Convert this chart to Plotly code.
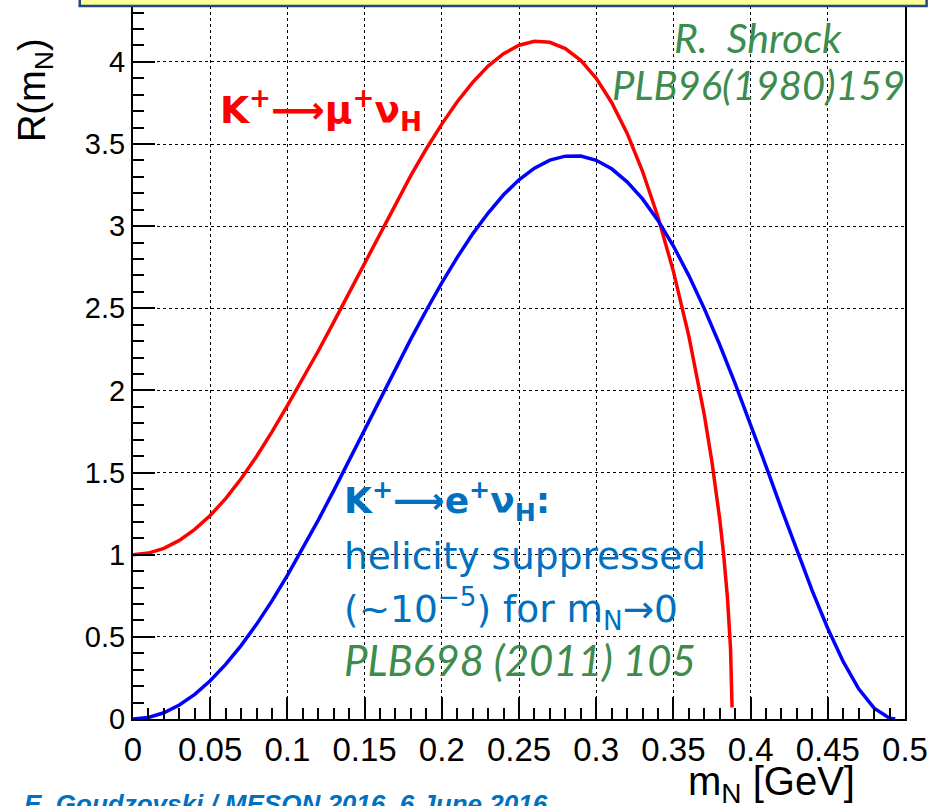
import plotly.graph_objects as go

# ---- data ----
mu_mass = [0.00, 0.01, 0.02, 0.03, 0.04, 0.05, 0.06, 0.07, 0.08, 0.09,
           0.10, 0.11, 0.12, 0.13, 0.14, 0.15, 0.16, 0.17, 0.18, 0.19,
           0.20, 0.21, 0.22, 0.23, 0.24, 0.25, 0.26, 0.27, 0.28, 0.29,
           0.30, 0.31, 0.32, 0.33, 0.34, 0.35, 0.36, 0.37, 0.375, 0.38,
           0.3825, 0.385, 0.387, 0.388]
mu_ratio = [1.000, 1.010, 1.039, 1.087, 1.154, 1.239, 1.341, 1.462, 1.598, 1.748,
            1.908, 2.070, 2.240, 2.416, 2.596, 2.778, 2.960, 3.138, 3.309, 3.471,
            3.621, 3.757, 3.875, 3.974, 4.050, 4.101, 4.125, 4.119, 4.081, 4.009,
            3.900, 3.753, 3.566, 3.334, 3.056, 2.725, 2.331, 1.852, 1.563, 1.217,
            1.005, 0.740, 0.430, 0.070]

e_mass = [0.00, 0.01, 0.02, 0.03, 0.04, 0.05, 0.06, 0.07, 0.08, 0.09,
          0.10, 0.11, 0.12, 0.13, 0.14, 0.15, 0.16, 0.17, 0.18, 0.19,
          0.20, 0.21, 0.22, 0.23, 0.24, 0.25, 0.26, 0.27, 0.28, 0.29,
          0.30, 0.31, 0.32, 0.33, 0.34, 0.35, 0.36, 0.37, 0.38, 0.39,
          0.40, 0.41, 0.42, 0.43, 0.44, 0.45, 0.46, 0.47, 0.48, 0.49,
          0.4937]
e_ratio = [0.000, 0.009, 0.038, 0.085, 0.150, 0.233, 0.332, 0.447, 0.576, 0.719,
           0.874, 1.038, 1.211, 1.390, 1.574, 1.761, 1.948, 2.133, 2.314, 2.488,
           2.655, 2.810, 2.953, 3.080, 3.191, 3.282, 3.353, 3.402, 3.426, 3.427,
           3.401, 3.349, 3.270, 3.166, 3.035, 2.879, 2.699, 2.498, 2.278, 2.042,
           1.794, 1.538, 1.279, 1.023, 0.778, 0.551, 0.349, 0.184, 0.066, 0.005,
           0.000]

x_range = [0, 0.5]
y_range = [0, 4.34]

RED = "#FF0000"
BLUE = "#0000FF"
TXT_BLUE = "#0070C0"
GREEN = "#3E8B4E"

fig = go.Figure()
fig.add_trace(go.Scatter(x=mu_mass, y=mu_ratio, mode="lines",
                         line=dict(color=RED, width=3.5), hoverinfo="skip"))
fig.add_trace(go.Scatter(x=e_mass, y=e_ratio, mode="lines",
                         line=dict(color=BLUE, width=3.5), hoverinfo="skip"))

axis_common = dict(
    showline=True, mirror=True, linecolor="black", linewidth=2,
    ticks="inside", ticklen=22, tickwidth=2, tickcolor="black",
    showgrid=True, gridcolor="black", griddash="dot", gridwidth=1,
    zeroline=False, automargin=False,
)

fig.update_xaxes(range=x_range, tick0=0, dtick=0.05,
                 minor=dict(dtick=0.01, ticks="inside", ticklen=11, tickwidth=1.5,
                            tickcolor="black", showgrid=False),
                 tickfont=dict(family="Liberation Sans", size=33, color="black"),
                 **axis_common)
fig.update_yaxes(range=y_range, tick0=0, dtick=0.5,
                 minor=dict(dtick=0.1, ticks="inside", ticklen=11, tickwidth=1.5,
                            tickcolor="black", showgrid=False),
                 tickfont=dict(family="Liberation Sans", size=29, color="black"),
                 **axis_common)

fig.update_layout(
    width=932, height=806,
    margin=dict(l=133, r=27, t=6, b=87),
    plot_bgcolor="white", paper_bgcolor="white",
    showlegend=False,
)

# yellow banner at the very top (cut off)
fig.add_shape(type="rect", xref="paper", yref="paper",
              x0=-0.069, x1=1.028, y0=1.0, y1=1.05,
              fillcolor="#FFFF99", line=dict(color="#1F497D", width=2.5), layer="above")

ann = []
# axis titles
ann.append(dict(text="R(m<sub>N</sub>)", xref="paper", yref="paper",
                x=-0.127, y=0.882, textangle=-90, showarrow=False,
                xanchor="center", yanchor="middle",
                font=dict(family="Liberation Sans", size=38, color="black")))
ann.append(dict(text="m<sub>N</sub> [GeV]", xref="paper", yref="paper",
                x=0.938, y=-0.091, showarrow=False, xanchor="right", yanchor="middle",
                font=dict(family="Liberation Sans", size=40, color="black")))
# red label
ann.append(dict(text="<b>K<sup>+</sup>⟶μ<sup>+</sup>ν<sub>H</sub></b>", xref="x", yref="y",
                x=0.0551, y=3.71, showarrow=False, xanchor="left", yanchor="middle",
                font=dict(family="DejaVu Sans", size=37.5, color=RED)))
# green reference (top right)
ann.append(dict(text="<i>R.\u00a0\u00a0Shrock</i>", xref="x", yref="y",
                x=0.4048, y=4.15, showarrow=False, xanchor="center", yanchor="middle",
                font=dict(family="Lato", size=41, color=GREEN)))
ann.append(dict(text="<i>PLB96(1980)159</i>", xref="x", yref="y",
                x=0.4048, y=3.86, showarrow=False, xanchor="center", yanchor="middle",
                font=dict(family="Lato", size=40, color=GREEN)))
# blue block
ann.append(dict(text="<b>K<sup>+</sup>⟶e<sup>+</sup>ν<sub>H</sub>:</b>", xref="x", yref="y",
                x=0.1354, y=1.33, showarrow=False, xanchor="left", yanchor="middle",
                font=dict(family="DejaVu Sans", size=36, color=TXT_BLUE)))
ann.append(dict(text="helicity suppressed", xref="x", yref="y",
                x=0.1354, y=0.99, showarrow=False, xanchor="left", yanchor="middle",
                font=dict(family="DejaVu Sans", size=37.5, color=TXT_BLUE)))
ann.append(dict(text="(~10<sup>−5</sup>) for m<sub>N</sub>→0", xref="x", yref="y",
                x=0.1354, y=0.67, showarrow=False, xanchor="left", yanchor="middle",
                font=dict(family="DejaVu Sans", size=37.5, color=TXT_BLUE)))
ann.append(dict(text="<i>PLB698 (2011) 105</i>", xref="x", yref="y",
                x=0.1354, y=0.36, showarrow=False, xanchor="left", yanchor="middle",
                font=dict(family="Lato", size=42, color=GREEN)))
# footer credit (cut off at the bottom)
ann.append(dict(text="<b><i>E. Goudzovski / MESON 2016, 6 June 2016</i></b>",
                xref="paper", yref="paper", x=-0.1438, y=-0.0954,
                showarrow=False, xanchor="left", yanchor="top",
                font=dict(family="Liberation Sans", size=26, color=TXT_BLUE)))

fig.update_layout(annotations=ann)

fig.write_html("out.html",
               config={"displayModeBar": False},
               post_script="document.body.style.margin='0px';"
                           "document.body.style.overflow='hidden';")
